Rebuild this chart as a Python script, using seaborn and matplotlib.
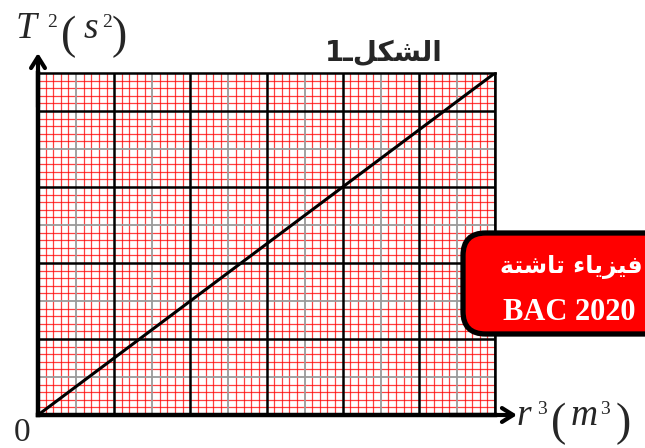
import numpy as np
import pandas as pd
import matplotlib
matplotlib.use("Agg")
import matplotlib.pyplot as plt
from matplotlib.patches import FancyBboxPatch
import seaborn as sns

# Straight-line relation T^2 = k * r^3, drawn across the whole sheet (graph-paper units)
r_cubed = [0.0, 6.0]
t_squared = [0.0, 4.5]

x_units = 6.0     # major squares along r^3
y_units = 4.5     # major squares along T^2

# Arabic strings in visual (left-to-right) presentation forms
figure_label = "1\u0640" + "\uFEDE\uFEDC\uFEB8\uFEDF\uFE8D"            # الشكل_1
badge_line1 = "\uFE94\uFE98\uFEB7\uFE8E\uFE97" + " " + "\uFE80\uFE8E\uFEF3\uFEB0\uFEF4\uFED3"  # فيزياء تاشتة
badge_line2 = "BAC 2020"

sns.set_style("white")
plt.rcParams["font.family"] = ["DejaVu Sans"]

W, H = 645, 448
fig = plt.figure(figsize=(W / 100, H / 100), dpi=100)


def fx(x):
    return x / W


def fy(y):
    return 1 - y / H


left, right, top, bottom = 38, 495, 73, 415
ax = fig.add_axes([fx(left), fy(bottom), (right - left) / W, (bottom - top) / H])

df = pd.DataFrame({"r3": r_cubed, "T2": t_squared})

# graph paper: red millimetre lines, grey half-units, black unit lines
for i in range(int(round(x_units * 10)) + 1):
    v = i / 10
    if i % 10 == 0:
        ax.axvline(v, color="black", lw=1.8, zorder=3)
    elif i % 10 == 5:
        ax.axvline(v, color="#9a9a9a", lw=1.3, zorder=2)
    else:
        ax.axvline(v, color="#ff0000", lw=0.9, alpha=0.75, zorder=1)
for j in range(int(round(y_units * 10)) + 1):
    v = j / 10
    if j % 10 == 0:
        ax.axhline(v, color="black", lw=1.8, zorder=3)
    elif j % 10 == 5:
        ax.axhline(v, color="#9a9a9a", lw=1.3, zorder=2)
    else:
        ax.axhline(v, color="#ff0000", lw=0.9, alpha=0.75, zorder=1)

sns.lineplot(data=df, x="r3", y="T2", color="black", lw=2.2, ax=ax, zorder=5)

ax.set_xlim(0, x_units)
ax.set_ylim(0, y_units)
ax.set_xticks([])
ax.set_yticks([])
ax.set_xlabel("")
ax.set_ylabel("")
for s in ["top", "right"]:
    ax.spines[s].set_linewidth(1.8)
    ax.spines[s].set_color("black")
for s in ["left", "bottom"]:
    ax.spines[s].set_linewidth(3.2)
    ax.spines[s].set_color("black")
    ax.spines[s].set_zorder(6)

# axis arrows
arrow = dict(arrowstyle="->,head_length=0.8,head_width=0.5", lw=3, color="black",
             shrinkA=0, shrinkB=0)
ax.annotate("", xy=(0, 1 + 20 / (bottom - top)), xytext=(0, 0.9), xycoords="axes fraction",
            arrowprops=arrow, annotation_clip=False)
ax.annotate("", xy=(1 + 22 / (right - left), 0), xytext=(0.9, 0), xycoords="axes fraction",
            arrowprops=arrow, annotation_clip=False)

serif = "Liberation Serif"


def piece(x, y, s, size, style="normal"):
    fig.text(fx(x), fy(y), s, fontsize=size, family=serif, style=style,
             ha="left", va="baseline")


# vertical axis title: T^2 (s^2)
piece(16, 38, "T", 27, "italic")
piece(47, 27, "2", 14)
piece(61, 48, "(", 33)
piece(84, 38, "s", 27, "italic")
piece(102, 27, "2", 14)
piece(112, 48, ")", 33)

# horizontal axis title: r^3 (m^3)
piece(516, 425, "r", 27, "italic")
piece(537, 414, "3", 14)
piece(551, 435, "(", 33)
piece(571, 425, "m", 27, "italic")
piece(600, 414, "3", 14)
piece(616, 435, ")", 33)

fig.text(fx(22), fy(441), "0", fontsize=24, family=serif, ha="center", va="baseline")

fig.text(fx(443), fy(61), figure_label, fontsize=20, fontweight="bold",
         ha="right", va="baseline")

# badge
badge = FancyBboxPatch((fx(463), fy(334)), fx(230), (334 - 233) / H,
                       boxstyle="round,pad=0,rounding_size=0.035",
                       transform=fig.transFigure, facecolor="#ff0000",
                       edgecolor="black", lw=3.8, zorder=10, clip_on=False,
                       mutation_aspect=W / H)
fig.patches.append(badge)
fig.text(fx(571), fy(273), badge_line1, fontsize=17, fontweight="bold", color="white",
         ha="center", va="baseline", zorder=11)
fig.text(fx(569), fy(320), badge_line2, fontsize=22, fontweight="bold", color="white",
         family=serif, ha="center", va="baseline", zorder=11)

fig.savefig("out.png", dpi=100)
